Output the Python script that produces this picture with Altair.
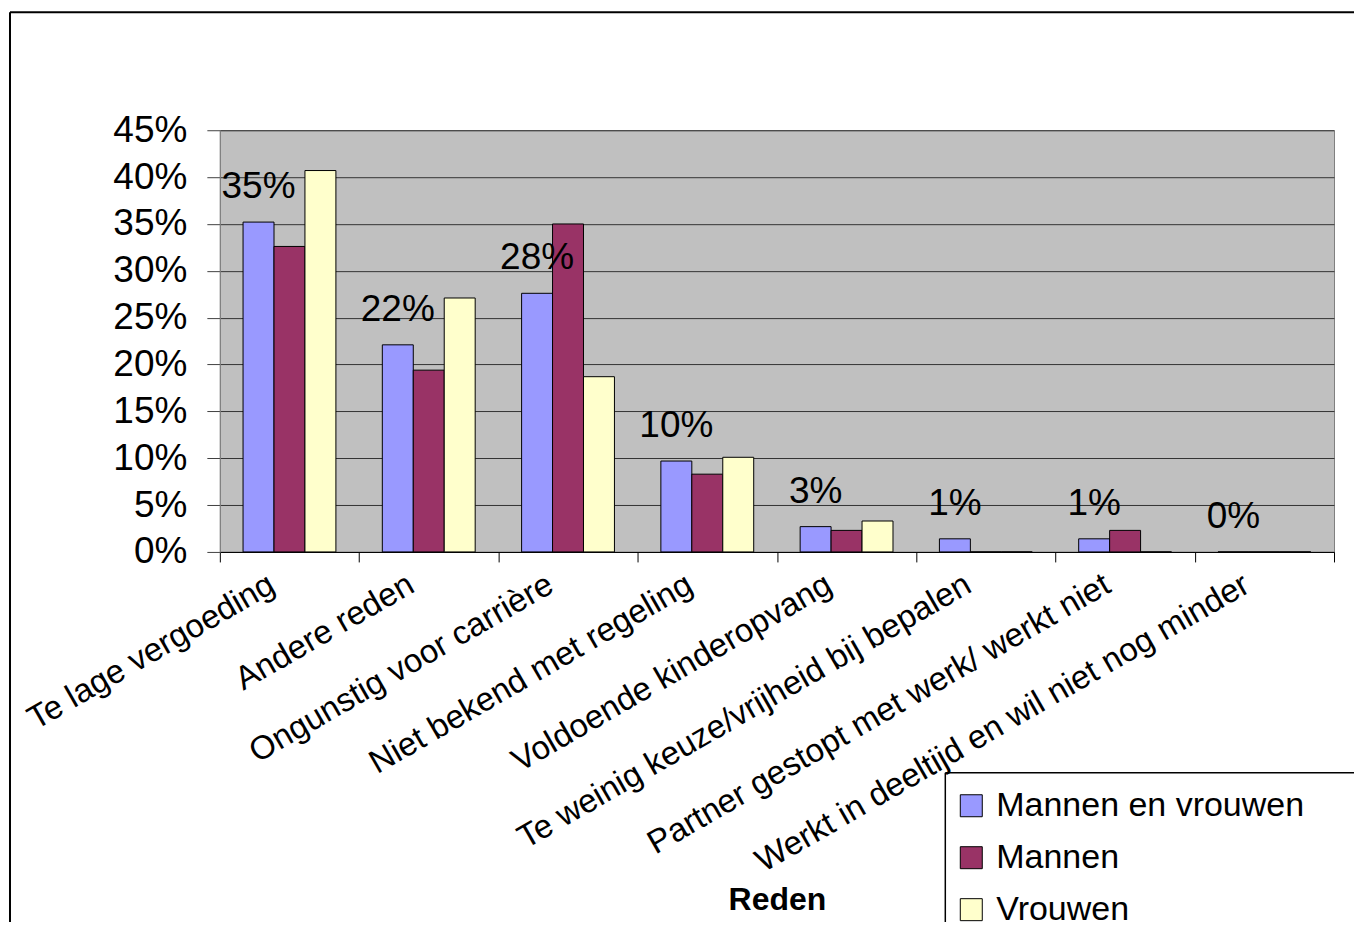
import altair as alt
import pandas as pd

categories = [
    "Te lage vergoeding",
    "Andere reden",
    "Ongunstig voor carrière",
    "Niet bekend met regeling",
    "Voldoende kinderopvang",
    "Te weinig keuze/vrijheid bij bepalen",
    "Partner gestopt met werk/ werkt niet",
    "Werkt in deeltijd en wil niet nog minder",
]
series = ["Mannen en vrouwen", "Mannen", "Vrouwen"]
mannen_en_vrouwen = [0.352, 0.221, 0.276, 0.097, 0.027, 0.014, 0.014, 0.0]
mannen = [0.326, 0.194, 0.350, 0.083, 0.023, 0.0, 0.023, 0.0]
vrouwen = [0.407, 0.271, 0.187, 0.101, 0.033, 0.0, 0.0, 0.0]
colors = ["#9999FF", "#993366", "#FFFFCC"]
y_ticks = [0, 0.05, 0.10, 0.15, 0.20, 0.25, 0.30, 0.35, 0.40, 0.45]

rows = []
for name, vals in zip(series, [mannen_en_vrouwen, mannen, vrouwen]):
    for c, v in zip(categories, vals):
        rows.append({"reden": c, "reeks": name, "waarde": v})
df = pd.DataFrame(rows)

FONT = "Liberation Sans"

x_enc = alt.X(
    "reden:N",
    sort=categories,
    scale=alt.Scale(domain=categories, paddingInner=0, paddingOuter=0),
    axis=alt.Axis(
        title="Reden",
        titleFont=FONT,
        titleFontSize=32,
        titleFontWeight="bold",
        titleColor="black",
        titleY=348,
        titleBaseline="middle",
        labelAngle=-30,
        labelAlign="right",
        labelBaseline="top",
        labelFont=FONT,
        labelFontSize=33,
        labelColor="black",
        labelPadding=6,
        labelOffset=-26,
        labelLimit=1000,
        labelOverlap=False,
        tickBand="extent",
        tickSize=10,
        tickColor="black",
        domainColor="black",
        grid=False,
    ),
)
xo_enc = alt.XOffset(
    "reeks:N", sort=series, scale=alt.Scale(domain=series, paddingInner=0, paddingOuter=0.75)
)
y_enc = alt.Y(
    "waarde:Q",
    scale=alt.Scale(domain=[0, 0.45], nice=False, zero=True),
    axis=alt.Axis(
        title=None,
        format=".0%",
        values=y_ticks,
        labelFont=FONT,
        labelFontSize=37,
        labelColor="black",
        labelPadding=20,
        tickSize=13,
        tickColor="#404040",
        domainColor="#808080",
        grid=True,
        gridColor="#333333",
        gridWidth=1,
    ),
)

base = alt.Chart(df)

bars = base.mark_bar(stroke="black", strokeWidth=1).encode(
    x=x_enc,
    xOffset=xo_enc,
    y=y_enc,
    color=alt.Color(
        "reeks:N",
        sort=series,
        scale=alt.Scale(domain=series, range=colors),
        legend=alt.Legend(
            title=None,
            orient="none",
            legendX=735,
            legendY=659,
            symbolType="square",
            symbolSize=484,
            symbolStrokeColor="black",
            symbolStrokeWidth=1,
            symbolOpacity=1,
            labelFont=FONT,
            labelFontSize=34,
            labelColor="black",
            labelOffset=8,
            labelLimit=1000,
            rowPadding=18,
            padding=0,
        ),
    ),
)

labels = (
    base.transform_filter(alt.datum.reeks == "Mannen en vrouwen")
    .mark_text(dy=-35, fontSize=37, font=FONT, baseline="middle", color="black")
    .encode(
        x=x_enc,
        xOffset=xo_enc,
        y=y_enc,
        text=alt.Text("waarde:Q", format=".0%"),
    )
)

deco = alt.Chart(pd.DataFrame({"d": [0]}))
frame_top = deco.mark_rule(color="black", strokeWidth=2).encode(
    x=alt.value(-210), x2=alt.value(1160), y=alt.value(-118)
)
frame_left = deco.mark_rule(color="black", strokeWidth=2).encode(
    x=alt.value(-210), y=alt.value(-118), y2=alt.value(820)
)
legend_top = deco.mark_rule(color="black", strokeWidth=1.5).encode(
    x=alt.value(726), x2=alt.value(1160), y=alt.value(643)
)
legend_left = deco.mark_rule(color="black", strokeWidth=1.5).encode(
    x=alt.value(726), y=alt.value(643), y2=alt.value(820)
)

chart = (
    alt.layer(bars, labels, frame_top, frame_left, legend_top, legend_left)
    .properties(
        width=1115,
        height=422,
        padding={"left": 212, "top": 122, "right": 20, "bottom": 370},
        autosize=alt.AutoSizeParams(type="none"),
        background="white",
    )
    .configure_view(fill="#C0C0C0", stroke="#808080", strokeWidth=1)
)

chart.save("out.html", embed_options={"renderer": "svg", "actions": False})
